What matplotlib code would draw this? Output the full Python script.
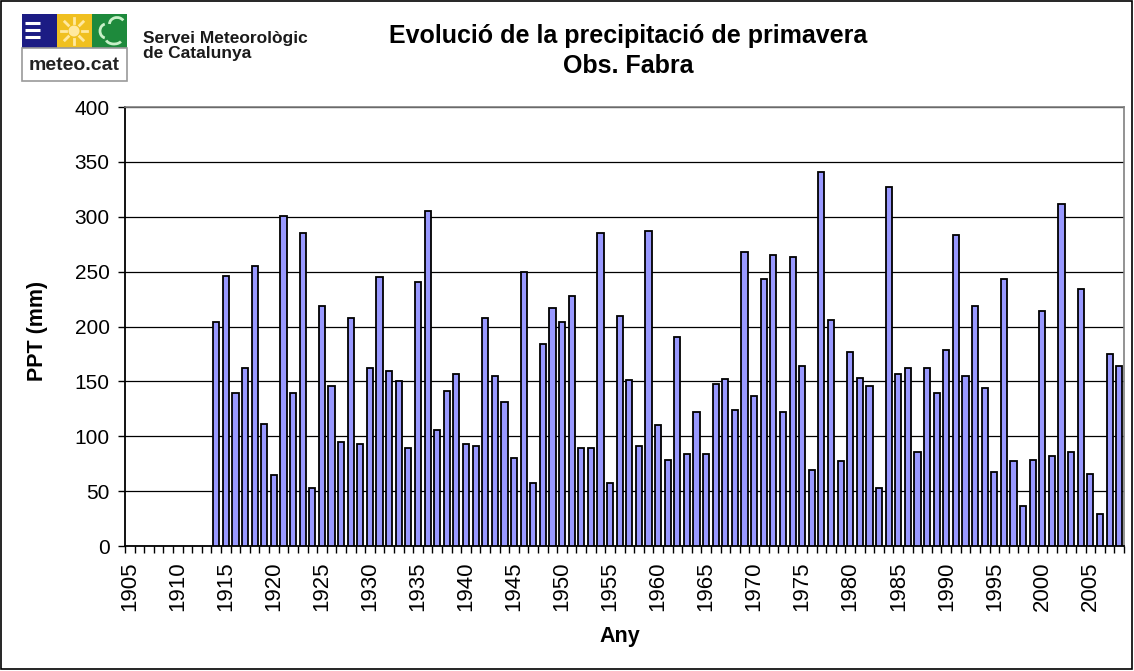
import matplotlib
matplotlib.use("Agg")
import matplotlib.pyplot as plt
from matplotlib.patches import Rectangle, Circle, Arc
import numpy as np

# ---------------- data ----------------
axis_years = list(range(1905, 2009))          # categories on the x axis
first_data_year = 1914
ppt_values = [
    204, 246, 139, 162, 255, 111, 65, 301, 139, 285,   # 1914-1923
    53, 219, 146, 95, 208, 93, 162, 245, 159, 150,     # 1924-1933
    89, 241, 305, 106, 141, 157, 93, 91, 208, 155,     # 1934-1943
    131, 80, 250, 57, 184, 217, 204, 228, 89, 89,      # 1944-1953
    285, 57, 210, 151, 91, 287, 110, 78, 190, 84,      # 1954-1963
    122, 84, 148, 152, 124, 268, 137, 243, 265, 122,   # 1964-1973
    263, 164, 69, 341, 206, 77, 177, 153, 146, 53,     # 1974-1983
    327, 157, 162, 86, 162, 139, 179, 283, 155, 219,   # 1984-1993
    144, 67, 243, 77, 36, 78, 214, 82, 312, 86,        # 1994-2003
    234, 66, 29, 175, 164,                             # 2004-2008
]
y_ticks = [0, 50, 100, 150, 200, 250, 300, 350, 400]
title_line1 = "Evolució de la precipitació de primavera"
title_line2 = "Obs. Fabra"
x_label = "Any"
y_label = "PPT (mm)"

plt.rcParams['font.family'] = ['Liberation Sans', 'DejaVu Sans']

W, H = 1134, 671
fig = plt.figure(figsize=(W / 100, H / 100), dpi=100)
fig.patch.set_facecolor('white')

# ---------------- main axes ----------------
L, R, T, B = 125, 1124, 107, 546
ax = fig.add_axes([L / W, 1 - B / H, (R - L) / W, (B - T) / H])

data_years = [first_data_year + i for i in range(len(ppt_values))]
x_idx = [axis_years.index(y) for y in data_years]
ax.bar(x_idx, ppt_values, width=0.64, color='#9999ff',
       edgecolor='black', linewidth=1.3, zorder=3)

ax.set_xlim(-0.5, len(axis_years) - 0.5)
ax.set_ylim(0, 400)
ax.set_yticks(y_ticks)
ax.yaxis.grid(True, color='black', linewidth=0.9, zorder=0)
ax.set_axisbelow(True)

lab_idx = [i for i, y in enumerate(axis_years) if y % 5 == 0]
ax.set_xticks(lab_idx)
ax.set_xticklabels([str(axis_years[i]) for i in lab_idx], rotation=90)
ax.set_xticks(np.arange(-0.5, len(axis_years), 1.0), minor=True)
ax.tick_params(axis='x', which='major', length=0, pad=11, labelsize=16)
ax.tick_params(axis='x', which='minor', length=5, width=1, direction='out',
               color='black')
ax.tick_params(axis='y', which='major', length=5, width=1, pad=6,
               labelsize=15)

for s in ['top', 'right']:
    ax.spines[s].set_color('#808080')
    ax.spines[s].set_linewidth(1.2)
for s in ['left', 'bottom']:
    ax.spines[s].set_color('black')
    ax.spines[s].set_linewidth(1.3)

ax.set_ylabel(y_label, fontsize=15.5, fontweight='bold')
ax.yaxis.set_label_coords(-(L - 48) / (R - L), 0.49)
ax.set_xlabel(x_label, fontsize=15.5, fontweight='bold')
ax.xaxis.set_label_coords(0.495, -(626 - B) / (B - T))

# ---------------- overlay (title, logo, border) ----------------
ov = fig.add_axes([0, 0, 1, 1], zorder=-1)
ov.set_xlim(0, W)
ov.set_ylim(H, 0)
ov.axis('off')

ov.add_patch(Rectangle((1, 1), W - 3, H - 3, fill=False,
                       edgecolor='black', linewidth=1.2))

ov.text(628, 36, title_line1, ha='center', va='center',
        fontsize=18, fontweight='bold')
ov.text(628, 66, title_line2, ha='center', va='center',
        fontsize=18, fontweight='bold')

# logo squares
ov.add_patch(Rectangle((22, 14), 35, 34, facecolor='#1c1c84', edgecolor='none'))
ov.add_patch(Rectangle((57, 14), 35, 34, facecolor='#f0c020', edgecolor='none'))
ov.add_patch(Rectangle((92, 14), 35, 34, facecolor='#1e8a3c', edgecolor='none'))
ov.add_patch(Rectangle((22, 48), 105, 33, facecolor='white',
                       edgecolor='#9a9a9a', linewidth=1.2))
for yy in (23, 30, 37):
    ov.plot([25, 40], [yy, yy], color='white', linewidth=2.2,
            solid_capstyle='butt')
# sun
ov.add_patch(Circle((74, 31), 5.5, facecolor='#ffe9a0', edgecolor='none'))
for a in np.deg2rad(np.arange(0, 360, 45)):
    ov.plot([74 + 8 * np.cos(a), 74 + 13 * np.cos(a)],
            [31 + 8 * np.sin(a), 31 + 13 * np.sin(a)],
            color='#ffe9a0', linewidth=2)
# cloud outline
cl = dict(color='#c8f0c8', linewidth=2)
ov.add_patch(Arc((117, 24), 15, 13, theta1=180, theta2=330, **cl))
ov.add_patch(Arc((106, 31), 12, 14, theta1=100, theta2=260, **cl))
ov.add_patch(Arc((114, 39), 16, 10, theta1=20, theta2=170, **cl))
ov.text(74.5, 65, "meteo.cat", ha='center', va='center', fontsize=14,
        fontweight='bold', color='#222222')

ov.text(143, 43, "Servei Meteorològic", ha='left', va='baseline',
        fontsize=12.5, fontweight='bold', color='#1a1a1a')
ov.text(143, 58, "de Catalunya", ha='left', va='baseline',
        fontsize=12.5, fontweight='bold', color='#1a1a1a')

fig.savefig("out.png", dpi=100, facecolor='white')
